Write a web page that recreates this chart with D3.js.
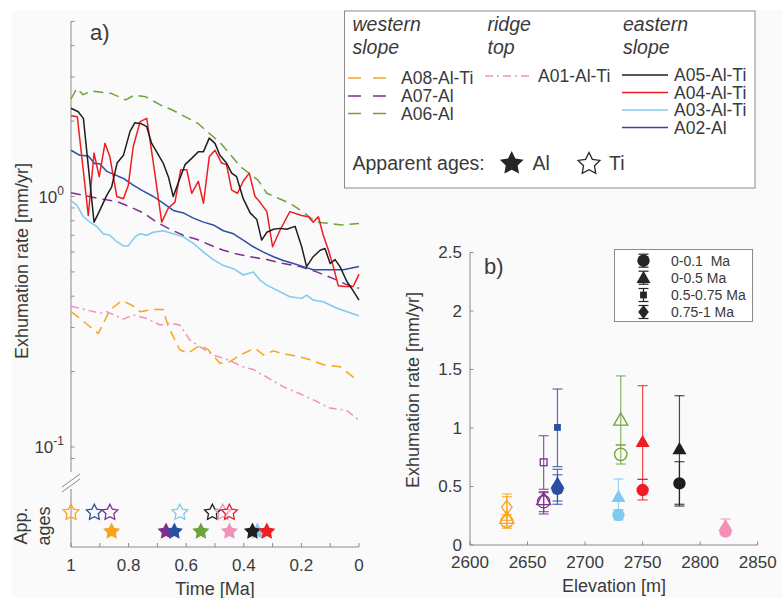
<!DOCTYPE html>
<html><head><meta charset="utf-8">
<script src="https://cdn.jsdelivr.net/npm/d3@7"></script>
<style>
html,body{margin:0;padding:0;background:#fff;}
text{font-family:"Liberation Sans",Arial,Helvetica,sans-serif;fill:#3a3a3a;}
</style></head>
<body><svg id="c" width="782" height="598"></svg>
<script>
// ---------- Panel a data: [time Ma, exhumation rate mm/yr] ----------
const A08 = [[1,0.347],[0.969,0.326],[0.934,0.302],[0.905,0.284],[0.865,0.352],[0.824,0.384],[0.79,0.369],[0.76,0.347],[0.714,0.354],[0.68,0.354],[0.662,0.302],[0.622,0.244],[0.593,0.237],[0.552,0.255],[0.523,0.244],[0.483,0.216],[0.448,0.219],[0.413,0.233],[0.361,0.248],[0.332,0.233],[0.297,0.242],[0.263,0.235],[0.217,0.231],[0.17,0.223],[0.124,0.213],[0.066,0.209],[0.02,0.19],[0,0.195]];
const A07 = [[1,1.036],[0.957,1.01],[0.9,0.98],[0.841,0.955],[0.795,0.91],[0.749,0.86],[0.703,0.79],[0.656,0.74],[0.61,0.70],[0.564,0.675],[0.517,0.64],[0.471,0.61],[0.425,0.59],[0.378,0.575],[0.32,0.56],[0.263,0.54],[0.205,0.525],[0.147,0.50],[0.089,0.47],[0.043,0.445],[0,0.43]];
const A06 = [[1,2.45],[0.98,2.7],[0.958,2.55],[0.93,2.64],[0.86,2.58],[0.81,2.43],[0.78,2.54],[0.74,2.5],[0.69,2.32],[0.65,2.22],[0.56,1.96],[0.48,1.63],[0.41,1.31],[0.35,1.16],[0.32,1.03],[0.24,0.94],[0.19,0.86],[0.15,0.79],[0.1,0.78],[0.06,0.77],[0,0.78]];
const A01 = [[1,0.365],[0.969,0.358],[0.9,0.342],[0.876,0.347],[0.818,0.324],[0.784,0.337],[0.737,0.326],[0.691,0.307],[0.656,0.312],[0.622,0.307],[0.587,0.267],[0.552,0.251],[0.506,0.233],[0.46,0.224],[0.402,0.209],[0.367,0.204],[0.32,0.19],[0.263,0.174],[0.182,0.159],[0.147,0.152],[0.101,0.143],[0.043,0.14],[0,0.128]];
const A05 = [[1,2.25],[0.975,2.18],[0.957,2.05],[0.92,0.79],[0.9,0.88],[0.876,1.01],[0.859,1.09],[0.84,1.36],[0.818,1.46],[0.795,1.82],[0.778,1.97],[0.755,1.95],[0.737,1.9],[0.72,1.63],[0.703,1.51],[0.68,1.36],[0.662,1.2],[0.645,1.0],[0.622,1.18],[0.604,1.34],[0.581,1.42],[0.558,1.51],[0.54,1.51],[0.52,1.71],[0.5,1.63],[0.483,1.46],[0.46,1.36],[0.442,1.24],[0.425,1.2],[0.402,0.98],[0.378,0.86],[0.355,0.81],[0.338,0.67],[0.32,0.72],[0.297,0.74],[0.274,0.746],[0.251,0.74],[0.222,0.76],[0.199,0.63],[0.182,0.525],[0.159,0.575],[0.135,0.61],[0.118,0.62],[0.1,0.54],[0.083,0.56],[0.066,0.525],[0.043,0.46],[0.02,0.42],[0,0.386]];
const A04 = [[1,2.1],[0.978,2.08],[0.94,0.84],[0.92,1.49],[0.902,1.2],[0.882,1.63],[0.865,1.44],[0.841,1.0],[0.818,0.98],[0.801,1.11],[0.784,1.58],[0.76,1.99],[0.737,2.05],[0.714,1.36],[0.685,0.79],[0.662,0.90],[0.639,0.95],[0.619,1.28],[0.598,1.28],[0.581,1.03],[0.558,1.15],[0.54,0.94],[0.52,1.44],[0.5,1.53],[0.477,1.36],[0.46,1.34],[0.442,1.06],[0.422,1.03],[0.402,1.15],[0.381,1.24],[0.361,1.0],[0.344,0.95],[0.32,0.87],[0.3,0.63],[0.274,0.735],[0.24,0.87],[0.199,0.84],[0.176,0.83],[0.159,0.79],[0.141,0.83],[0.124,0.70],[0.106,0.61],[0.089,0.525],[0.072,0.44],[0.049,0.437],[0.02,0.437],[0,0.49]];
const A03 = [[1,0.96],[0.98,0.925],[0.957,0.83],[0.934,0.79],[0.911,0.76],[0.888,0.71],[0.865,0.70],[0.841,0.66],[0.818,0.635],[0.801,0.635],[0.778,0.69],[0.76,0.71],[0.737,0.70],[0.714,0.72],[0.68,0.73],[0.645,0.71],[0.61,0.69],[0.575,0.65],[0.54,0.60],[0.506,0.56],[0.471,0.53],[0.436,0.515],[0.402,0.486],[0.367,0.50],[0.344,0.464],[0.32,0.443],[0.24,0.398],[0.199,0.392],[0.182,0.404],[0.159,0.386],[0.124,0.38],[0.077,0.358],[0,0.334]];
const A02 = [[1,1.53],[0.969,1.46],[0.94,1.45],[0.917,1.35],[0.9,1.35],[0.876,1.26],[0.847,1.22],[0.818,1.18],[0.784,1.11],[0.749,1.05],[0.714,1.0],[0.68,0.94],[0.645,0.88],[0.61,0.86],[0.575,0.82],[0.54,0.79],[0.506,0.77],[0.471,0.73],[0.436,0.71],[0.402,0.67],[0.367,0.63],[0.332,0.60],[0.297,0.575],[0.263,0.555],[0.228,0.54],[0.193,0.525],[0.159,0.51],[0.124,0.51],[0.089,0.51],[0.054,0.51],[0,0.525]];

// apparent ages (Ma)
const tiAgeSites = ["A08","A02","A07","A03","A05","A01","A04"];
const tiAges     = [1.0, 0.919, 0.865, 0.622, 0.509, 0.473, 0.45];
const alAgeSites = ["A08","A07","A02","A06","A01","A03","A05","A04"];
const alAges     = [0.859, 0.67, 0.641, 0.549, 0.45, 0.353, 0.37, 0.32];

const timeTicks = [1,0.9,0.8,0.7,0.6,0.5,0.4,0.3,0.2,0.1,0];
const timeLabels = [1,0.8,0.6,0.4,0.2,0];
const rateTicksA = [0.09,0.1,0.2,0.3,0.4,0.5,0.6,0.7,0.8,0.9,1,2,3,4,5];

// ---------- Panel b data ----------
const bSite  = ["A08","A08","A08","A07","A07","A07","A02","A02","A02","A06","A06","A03","A03","A04","A04","A05","A05","A01","A01"];
const bShape = ["circle","triangle","diamond","square","triangle","circle","square","triangle","circle","triangle","circle","triangle","circle","triangle","circle","triangle","circle","triangle","circle"];
const bRate  = [0.20,0.23,0.322,0.707,0.39,0.37,1.005,0.527,0.48,1.07,0.775,0.413,0.256,0.883,0.47,0.82,0.527,0.165,0.114];
const bLow   = [0.143,0.162,0.21,0.476,0.285,0.265,0.67,0.376,0.348,0.855,0.692,0.30,0.214,0.561,0.385,0.348,0.333,0.10,0.09];
const bHigh  = [0.26,0.413,0.436,0.934,0.456,0.447,1.333,0.647,0.60,1.445,0.855,0.564,0.30,1.362,0.561,1.276,0.712,0.222,0.14];
const siteElev = {A08:2632, A07:2664, A02:2676, A06:2731, A03:2729, A04:2750, A05:2782, A01:2822};
const elevTicks = [2600,2650,2700,2750,2800,2850];
const rateTicksB = [0,0.5,1,1.5,2,2.5];
const bLegend = ["0-0.1  Ma","0-0.5 Ma","0.5-0.75 Ma","0.75-1 Ma"];

// ---------- styles ----------
const col = {A08:"#f8a51b",A07:"#7e2f8e",A06:"#6fa33a",A01:"#f291b8",A05:"#1e1e1e",A04:"#ee1d24",A03:"#7fcaf0",A02:"#2c4ea2"};
const openB = {A08:true,A07:true,A06:true};
const axisCol = "#8a8a8a";

function starPath(R, ratio){
  const pts = [];
  for(let i=0;i<10;i++){
    const r = i%2===0 ? R : R*ratio;
    const a = -Math.PI/2 + i*Math.PI/5;
    pts.push([r*Math.cos(a), r*Math.sin(a)]);
  }
  return "M"+pts.map(p=>p[0].toFixed(2)+","+p[1].toFixed(2)).join("L")+"Z";
}

const svg = d3.select("#c");
svg.append("rect").attr("x",12).attr("y",10).attr("width",770).attr("height",588).attr("fill","#fafafa");

// ===== Panel a =====
const xA = d3.scaleLinear().domain([1,0]).range([71,359]);
const yA = d3.scaleLog().domain([0.1,1]).range([447,196.5]);
const yTop = yA(5);
const gA = svg.append("g");

gA.append("line").attr("x1",71).attr("x2",71).attr("y1",yTop).attr("y2",472).attr("stroke",axisCol).attr("stroke-width",1);
gA.selectAll(".ty").data(rateTicksA).join("line")
  .attr("x1",71).attr("x2",74.5).attr("y1",d=>yA(d)).attr("y2",d=>yA(d)).attr("stroke",axisCol);
[[1,"0"],[0.1,"-1"]].forEach(([v,e])=>{
  const t = gA.append("text").attr("x",64).attr("y",yA(v)+6).attr("text-anchor","end").attr("font-size",17);
  t.append("tspan").text("10");
  t.append("tspan").attr("dy",-8).attr("font-size",12).text(e);
});
gA.append("line").attr("x1",62).attr("y1",487).attr("x2",80).attr("y2",474).attr("stroke",axisCol);
gA.append("line").attr("x1",62).attr("y1",492).attr("x2",80).attr("y2",479).attr("stroke",axisCol);
gA.append("line").attr("x1",71).attr("x2",71).attr("y1",489).attr("y2",547).attr("stroke",axisCol);
gA.append("line").attr("x1",71).attr("x2",359).attr("y1",547).attr("y2",547).attr("stroke",axisCol);
gA.selectAll(".tx").data(timeTicks).join("line")
  .attr("x1",d=>xA(d)).attr("x2",d=>xA(d)).attr("y1",547).attr("y2",543).attr("stroke",axisCol);
gA.selectAll(".lx").data(timeLabels).join("text")
  .attr("x",d=>xA(d)).attr("y",571).attr("text-anchor","middle").attr("font-size",17).text(d=>d);
gA.append("text").attr("x",215).attr("y",595).attr("text-anchor","middle").attr("font-size",18).text("Time [Ma]");
gA.append("text").attr("transform","translate(28,261) rotate(-90)").attr("text-anchor","middle").attr("font-size",18).text("Exhumation rate [mm/yr]");
gA.append("text").attr("transform","translate(27,526) rotate(-90)").attr("text-anchor","middle").attr("font-size",18).text("App.");
gA.append("text").attr("transform","translate(50,526) rotate(-90)").attr("text-anchor","middle").attr("font-size",18).text("ages");
gA.append("text").attr("x",90).attr("y",40).attr("font-size",22).text("a)");

const line = d3.line().x(d=>xA(d[0])).y(d=>yA(d[1]));
const series = [
  {d:A06,c:col.A06,dash:"10,6"},
  {d:A07,c:col.A07,dash:"10,6"},
  {d:A08,c:col.A08,dash:"10,6"},
  {d:A01,c:col.A01,dash:"8,4,2,4"},
  {d:A03,c:col.A03,dash:null},
  {d:A02,c:col.A02,dash:null},
  {d:A04,c:col.A04,dash:null},
  {d:A05,c:col.A05,dash:null}
];
series.forEach(s=>{
  gA.append("path").attr("d",line(s.d)).attr("fill","none").attr("stroke",s.c)
    .attr("stroke-width",1.5).attr("stroke-dasharray",s.dash).attr("stroke-linejoin","round");
});

const starAl = starPath(9, 0.5);
const starTi = starPath(8.3, 0.5);
tiAges.forEach((t,i)=>{
  gA.append("path").attr("d",starTi).attr("transform",`translate(${xA(t)},512.5)`)
    .attr("fill","none").attr("stroke",col[tiAgeSites[i]]).attr("stroke-width",1.3).attr("stroke-linejoin","miter");
});
alAges.forEach((t,i)=>{
  gA.append("path").attr("d",starAl).attr("transform",`translate(${xA(t)},531.5)`)
    .attr("fill",col[alAgeSites[i]]);
});

// legend a
const gL = svg.append("g");
gL.append("rect").attr("x",344.5).attr("y",11).attr("width",410.5).attr("height",177).attr("fill","#fff").attr("stroke","#8a8a8a");
const hdr = [[352.5,"western","slope"],[487.5,"ridge","top"],[623,"eastern","slope"]];
hdr.forEach(([x,a,b])=>{
  gL.append("text").attr("x",x).attr("y",31).attr("font-size",19.5).attr("font-style","italic").text(a);
  gL.append("text").attr("x",x).attr("y",54).attr("font-size",19.5).attr("font-style","italic").text(b);
});
const legEntries = [
  {k:"A08",lab:"A08-Al-Ti",x1:348,x2:389,tx:401,y:78,dash:"13,12"},
  {k:"A07",lab:"A07-Al",x1:348,x2:389,tx:401,y:96,dash:"13,12"},
  {k:"A06",lab:"A06-Al",x1:348,x2:389,tx:401,y:113.5,dash:"13,12"},
  {k:"A01",lab:"A01-Al-Ti",x1:485,x2:530,tx:538,y:76,dash:"8,4,2,4"},
  {k:"A05",lab:"A05-Al-Ti",x1:622,x2:668,tx:674,y:75,dash:null},
  {k:"A04",lab:"A04-Al-Ti",x1:622,x2:668,tx:674,y:92.5,dash:null},
  {k:"A03",lab:"A03-Al-Ti",x1:622,x2:668,tx:674,y:110,dash:null},
  {k:"A02",lab:"A02-Al",x1:622,x2:668,tx:674,y:127.5,dash:null}
];
legEntries.forEach(e=>{
  gL.append("line").attr("x1",e.x1).attr("x2",e.x2).attr("y1",e.y).attr("y2",e.y)
    .attr("stroke",col[e.k]).attr("stroke-width",1.5).attr("stroke-dasharray",e.dash);
  gL.append("text").attr("x",e.tx).attr("y",e.y+6.3).attr("font-size",17.5).text(e.lab);
});
gL.append("text").attr("x",352.5).attr("y",170).attr("font-size",19.5).text("Apparent ages:");
gL.append("path").attr("d",starPath(12.5,0.5)).attr("transform","translate(511.7,163.5)").attr("fill","#262626");
gL.append("text").attr("x",532.5).attr("y",170).attr("font-size",19.5).text("Al");
gL.append("path").attr("d",starPath(11.5,0.5)).attr("transform","translate(589,164)").attr("fill","none").attr("stroke","#262626").attr("stroke-width",1.3);
gL.append("text").attr("x",609).attr("y",170).attr("font-size",19.5).text("Ti");

// ===== Panel b =====
const xB = d3.scaleLinear().domain([2600,2850]).range([470,757.7]);
const yB = d3.scaleLinear().domain([0,2.5]).range([545,252.5]);
const gB = svg.append("g");
gB.append("line").attr("x1",470).attr("x2",470).attr("y1",yB(2.5)).attr("y2",545).attr("stroke",axisCol);
gB.append("line").attr("x1",470).attr("x2",757.7).attr("y1",545).attr("y2",545).attr("stroke",axisCol);
gB.selectAll(".tby").data(rateTicksB).join("line").attr("x1",470).attr("x2",473.5).attr("y1",d=>yB(d)).attr("y2",d=>yB(d)).attr("stroke",axisCol);
gB.selectAll(".tbx").data(elevTicks).join("line").attr("x1",d=>xB(d)).attr("x2",d=>xB(d)).attr("y1",545).attr("y2",541.5).attr("stroke",axisCol);
gB.selectAll(".lby").data(rateTicksB).join("text").attr("x",462).attr("y",d=>yB(d)+5.5).attr("text-anchor","end").attr("font-size",17).text(d=>d);
gB.selectAll(".lbx").data(elevTicks).join("text").attr("x",d=>xB(d)).attr("y",568).attr("text-anchor","middle").attr("font-size",17).text(d=>d);
gB.append("text").attr("x",614).attr("y",592).attr("text-anchor","middle").attr("font-size",18).text("Elevation [m]");
gB.append("text").attr("transform","translate(419,390) rotate(-90)").attr("text-anchor","middle").attr("font-size",18).text("Exhumation rate [mm/yr]");
gB.append("text").attr("x",484).attr("y",274).attr("font-size",22).text("b)");

function marker(g,shape,x,y,color,open){
  let el;
  if(shape==="circle") el = g.append("circle").attr("cx",x).attr("cy",y).attr("r",6.2);
  else if(shape==="triangle") el = g.append("path").attr("d",`M${x},${y-7}L${x+7},${y+5.3}L${x-7},${y+5.3}Z`);
  else if(shape==="square") el = g.append("rect").attr("x",x-3.4).attr("y",y-3.4).attr("width",6.8).attr("height",6.8);
  else el = g.append("path").attr("d",`M${x},${y-7}L${x+5.3},${y}L${x},${y+7}L${x-5.3},${y}Z`);
  if(open) el.attr("fill","none").attr("stroke",color).attr("stroke-width",1.3);
  else el.attr("fill",color);
}
function errbar(g,x,y1,y2,color,op){
  g.append("line").attr("x1",x).attr("x2",x).attr("y1",y1).attr("y2",y2).attr("stroke",color).attr("stroke-width",1.2).attr("opacity",op);
  [y1,y2].forEach(y=>g.append("line").attr("x1",x-5).attr("x2",x+5).attr("y1",y).attr("y2",y).attr("stroke",color).attr("stroke-width",1.2).attr("opacity",op));
}
bSite.forEach((s,i)=>{
  errbar(gB, xB(siteElev[s]), yB(bLow[i]), yB(bHigh[i]), col[s], 0.8);
});
bSite.forEach((s,i)=>{
  marker(gB, bShape[i], xB(siteElev[s]), yB(bRate[i]), col[s], !!openB[s]);
});

// legend b
gB.append("rect").attr("x",614.5).attr("y",249.5).attr("width",138).attr("height",72).attr("fill","#fff").attr("stroke","#8a8a8a");
const legShapes = ["circle","triangle","square","diamond"];
const legY = [260.7,277.7,295,312];
legShapes.forEach((sh,i)=>{
  errbar(gB,643.5,legY[i]-6.5,legY[i]+6.5,"#262626",1);
  marker(gB,sh,643.5,legY[i],"#262626",false);
  gB.append("text").attr("x",671).attr("y",legY[i]+5).attr("font-size",14).attr("xml:space","preserve").style("white-space","pre").text(bLegend[i]);
});
</script></body></html>
